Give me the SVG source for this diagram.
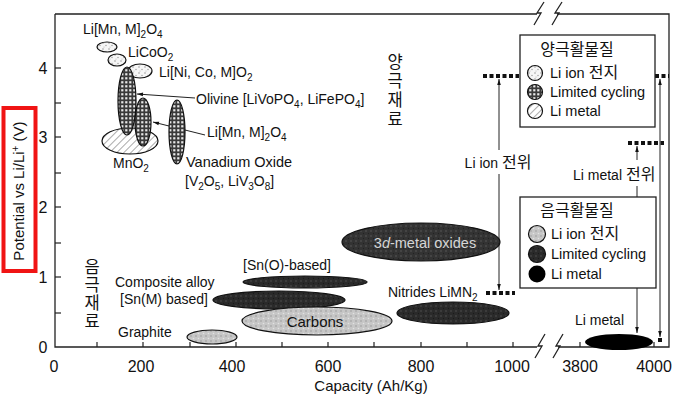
<svg xmlns="http://www.w3.org/2000/svg" width="684" height="405" viewBox="0 0 684 405">
<style>
text{font-family:"Liberation Sans","Noto Sans CJK KR",sans-serif;fill:#111}
.t{font-size:14px}
.lg{font-size:14.5px}
.k{font-size:16px}
.num{font-size:16px}
.kr{font-size:16.5px;text-anchor:middle}
.ax{stroke:#222;stroke-width:1.3;fill:none}
.tick{stroke:#222;stroke-width:1.2}
.el{stroke:#111;stroke-width:1.2}
.arr{stroke:#222;stroke-width:1;fill:none}
.mk{stroke:#111;stroke-width:4;stroke-dasharray:4 2.5;fill:none}
</style>
<defs>
<pattern id="speck" width="6" height="6" patternUnits="userSpaceOnUse"><rect width="6" height="6" fill="#f6f6f6"/><circle cx="1" cy="1" r="0.7" fill="#888"/><circle cx="4" cy="3.5" r="0.7" fill="#999"/><circle cx="2" cy="5" r="0.5" fill="#aaa"/></pattern>
<pattern id="check" width="4" height="4" patternUnits="userSpaceOnUse"><rect width="4" height="4" fill="#3a3a3a"/><rect x="1.2" y="1.2" width="2.2" height="2.2" fill="#e8e8e8"/></pattern>
<pattern id="hatch" width="5" height="5" patternUnits="userSpaceOnUse" patternTransform="rotate(45)"><rect width="5" height="5" fill="#fff"/><line x1="0" y1="0" x2="0" y2="5" stroke="#444" stroke-width="0.9"/></pattern>
<pattern id="lgray" width="5" height="5" patternUnits="userSpaceOnUse"><rect width="5" height="5" fill="#c6c6c6"/><circle cx="1" cy="1" r="0.8" fill="#9a9a9a"/><circle cx="3.5" cy="3.5" r="0.8" fill="#e2e2e2"/></pattern>
<pattern id="dgray" width="5" height="5" patternUnits="userSpaceOnUse"><rect width="5" height="5" fill="#2a2a2a"/><circle cx="1" cy="1" r="0.8" fill="#505050"/><circle cx="3.5" cy="3.5" r="0.7" fill="#1a1a1a"/></pattern>
<pattern id="mgray" width="5" height="5" patternUnits="userSpaceOnUse"><rect width="5" height="5" fill="#333"/><circle cx="1" cy="1" r="0.8" fill="#5a5a5a"/><circle cx="3.5" cy="3.5" r="0.7" fill="#222"/></pattern>
<marker id="ah" viewBox="0 0 10 10" refX="10" refY="5" markerWidth="7" markerHeight="6" orient="auto-start-reverse"><path d="M0,2 L10,5 L0,8 z" fill="#111"/></marker>
</defs>
<rect width="684" height="405" fill="#fff"/>

<g id="axes">
<path class="ax" d="M55,14 V347 H537 M558,347 H669 V14 H557 M537,14 H55"/>
<path class="ax" d="M545,334 L538,346 L542,346 L535,358 M563,334 L556,346 L560,346 L553,358"/>
<path class="ax" d="M544,2 L537,13 L541,13 L534,25 M562,2 L555,13 L559,13 L552,25"/>
<g class="tick">
<line x1="55" y1="68" x2="61" y2="68"/><line x1="55" y1="103" x2="61" y2="103"/><line x1="55" y1="137" x2="61" y2="137"/><line x1="55" y1="173" x2="61" y2="173"/><line x1="55" y1="207" x2="61" y2="207"/><line x1="55" y1="243" x2="61" y2="243"/><line x1="55" y1="277" x2="61" y2="277"/><line x1="55" y1="313" x2="61" y2="313"/>
<line x1="97" y1="347" x2="97" y2="342"/><line x1="143" y1="347" x2="143" y2="342"/><line x1="190" y1="347" x2="190" y2="342"/><line x1="236" y1="347" x2="236" y2="342"/><line x1="282" y1="347" x2="282" y2="342"/><line x1="328" y1="347" x2="328" y2="342"/><line x1="374" y1="347" x2="374" y2="342"/><line x1="421" y1="347" x2="421" y2="342"/><line x1="467" y1="347" x2="467" y2="342"/><line x1="513" y1="347" x2="513" y2="342"/>
<line x1="580" y1="347" x2="580" y2="342"/><line x1="617" y1="347" x2="617" y2="342"/><line x1="654" y1="347" x2="654" y2="342"/>
</g>
<g class="num" text-anchor="middle">
<text x="43" y="74">4</text><text x="43" y="143">3</text><text x="43" y="213">2</text><text x="43" y="283">1</text><text x="43" y="353">0</text>
<text x="54" y="372">0</text><text x="141" y="372">200</text><text x="232" y="372">400</text><text x="328" y="372">600</text><text x="421" y="372">800</text><text x="512" y="372">1000</text><text x="580" y="372">3800</text><text x="654" y="372">4000</text>
</g>
<text x="371" y="391" text-anchor="middle" style="font-size:15px">Capacity (Ah/Kg)</text>
<text transform="translate(24,191) rotate(-90)" text-anchor="middle" style="font-size:15px">Potential vs Li/Li<tspan dy="-5" style="font-size:10px">+</tspan><tspan dy="5"> (V)</tspan></text>
<rect x="3.5" y="108" width="32" height="163" fill="none" stroke="#f01414" stroke-width="4"/>
</g>

<g id="connectors">
<line class="arr" x1="195" y1="98" x2="137" y2="94" marker-end="url(#ah)"/>
<line class="arr" x1="205" y1="135" x2="153" y2="122" marker-end="url(#ah)"/>
<line class="arr" x1="499" y1="150" x2="499" y2="79" marker-end="url(#ah)"/>
<line class="arr" x1="499" y1="174" x2="499" y2="290" marker-end="url(#ah)"/>
<line class="arr" x1="637" y1="160" x2="637" y2="146" marker-end="url(#ah)"/>
<line class="arr" x1="637" y1="186" x2="637" y2="197"/>
<line class="arr" x1="637" y1="288" x2="637" y2="333" marker-end="url(#ah)"/>
<line class="arr" x1="660" y1="79" x2="660" y2="337" marker-start="url(#ah)" marker-end="url(#ah)"/>
<path class="mk" d="M483,76 H519 M655,76 H669 M628,143 H664 M486,293 H515"/>
<rect x="658" y="338" width="4" height="4" fill="#111"/>
</g>

<g id="cathode-materials">
<g id="limn2o4-top"><ellipse class="el" cx="107" cy="47" rx="10" ry="5" fill="url(#speck)"/><text class="t" x="83" y="34">Li[Mn, M]<tspan dy="4" style="font-size:10px">2</tspan><tspan dy="-4">O</tspan><tspan dy="4" style="font-size:10px">4</tspan></text></g>
<g id="licoo2"><ellipse class="el" cx="117" cy="60" rx="9" ry="6" fill="url(#speck)"/><text class="t" x="128" y="57">LiCoO<tspan dy="4" style="font-size:10px">2</tspan></text></g>
<g id="linicomo2"><ellipse class="el" cx="140" cy="71" rx="12" ry="7" fill="url(#speck)"/><text class="t" x="159" y="77">Li[Ni, Co, M]O<tspan dy="4" style="font-size:10px">2</tspan></text></g>
<g id="mno2"><ellipse class="el" cx="130" cy="141" rx="28" ry="13" fill="url(#hatch)"/><text class="t" x="113" y="168">MnO<tspan dy="4" style="font-size:10px">2</tspan></text></g>
<g id="olivine"><ellipse class="el" cx="127" cy="101" rx="9" ry="34" fill="url(#check)"/><text class="t" x="196" y="104">Olivine [LiVoPO<tspan dy="4" style="font-size:10px">4</tspan><tspan dy="-4">, LiFePO</tspan><tspan dy="4" style="font-size:10px">4</tspan><tspan dy="-4">]</tspan></text></g>
<g id="limn2o4"><ellipse class="el" cx="143" cy="122" rx="8" ry="24" fill="url(#check)"/><text class="t" x="207" y="137">Li[Mn, M]<tspan dy="4" style="font-size:10px">2</tspan><tspan dy="-4">O</tspan><tspan dy="4" style="font-size:10px">4</tspan></text></g>
<g id="vanadium"><ellipse class="el" cx="177" cy="132" rx="8" ry="32" fill="url(#check)"/><text class="t" x="186" y="167" style="font-size:14.5px">Vanadium Oxide</text><text class="t" x="185" y="186">[V<tspan dy="4" style="font-size:10px">2</tspan><tspan dy="-4">O</tspan><tspan dy="4" style="font-size:10px">5</tspan><tspan dy="-4">, LiV</tspan><tspan dy="4" style="font-size:10px">3</tspan><tspan dy="-4">O</tspan><tspan dy="4" style="font-size:10px">8</tspan><tspan dy="-4">]</tspan></text></g>
<g id="cathode-title"><text class="kr" x="395" y="68">양</text><text class="kr" x="395" y="87">극</text><text class="kr" x="395" y="106">재</text><text class="kr" x="395" y="125">료</text></g>
</g>

<g id="anode-materials">
<g id="metal-oxides"><ellipse class="el" cx="421" cy="242" rx="79" ry="19" fill="url(#mgray)"/><text class="t" x="425" y="248" text-anchor="middle" style="fill:#d6d6d6;font-size:14.5px">3<tspan font-style="italic">d</tspan>-metal oxides</text></g>
<g id="sno"><ellipse class="el" cx="305" cy="282" rx="62" ry="6" fill="url(#dgray)"/><text class="t" x="243" y="270">[Sn(O)-based]</text></g>
<g id="composite"><ellipse class="el" cx="279" cy="300" rx="66" ry="9" fill="url(#dgray)"/><text class="t" x="115" y="287">Composite alloy</text><text class="t" x="120" y="304">[Sn(M) based]</text></g>
<g id="carbons"><ellipse class="el" cx="317" cy="321" rx="75" ry="14" fill="url(#lgray)"/><text class="t" x="315" y="327" text-anchor="middle" style="font-size:15px">Carbons</text></g>
<g id="graphite"><ellipse class="el" cx="212" cy="337" rx="25" ry="7" fill="url(#lgray)"/><text class="t" x="118" y="337">Graphite</text></g>
<g id="nitrides"><ellipse class="el" cx="453" cy="313" rx="56" ry="11" fill="url(#dgray)"/><text class="t" x="388" y="297">Nitrides LiMN<tspan dy="4" style="font-size:10px">2</tspan></text></g>
<g id="li-metal"><ellipse cx="619" cy="342" rx="34" ry="8" fill="#000"/><text class="t" x="575" y="325">Li metal</text></g>
<g id="anode-title"><text class="kr" x="92" y="273">음</text><text class="kr" x="92" y="291">극</text><text class="kr" x="92" y="309">재</text><text class="kr" x="92" y="327">료</text></g>
</g>

<g id="potential-labels">
<text class="t" x="498" y="168" text-anchor="middle">Li ion <tspan class="k">전위</tspan></text>
<text class="t" x="573" y="180">Li metal <tspan class="k">전위</tspan></text>
</g>

<g id="legend-cathode">
<rect x="520" y="35" width="135" height="92" fill="#fff" stroke="#222" stroke-width="1.3"/>
<text x="577" y="55" text-anchor="middle" style="font-size:16px">양극활물질</text>
<circle class="el" cx="535" cy="73" r="7.5" fill="url(#speck)"/>
<circle class="el" cx="535" cy="92" r="7.5" fill="url(#check)"/>
<circle class="el" cx="535" cy="111" r="7.5" fill="url(#hatch)"/>
<text class="lg" x="550" y="78">Li ion <tspan class="k">전지</tspan></text>
<text class="lg" x="550" y="97">Limited cycling</text>
<text class="lg" x="550" y="116">Li metal</text>
</g>

<g id="legend-anode">
<rect x="520" y="197" width="136" height="91" fill="#fff" stroke="#222" stroke-width="1.3"/>
<text x="577" y="216" text-anchor="middle" style="font-size:16px">음극활물질</text>
<circle class="el" cx="537" cy="234" r="8.5" fill="url(#lgray)"/>
<circle class="el" cx="537" cy="254" r="8.5" fill="url(#dgray)"/>
<circle cx="537" cy="274" r="8.5" fill="#000"/>
<text class="lg" x="551" y="239">Li ion <tspan class="k">전지</tspan></text>
<text class="lg" x="551" y="259">Limited cycling</text>
<text class="lg" x="551" y="279">Li metal</text>
</g>
</svg>
